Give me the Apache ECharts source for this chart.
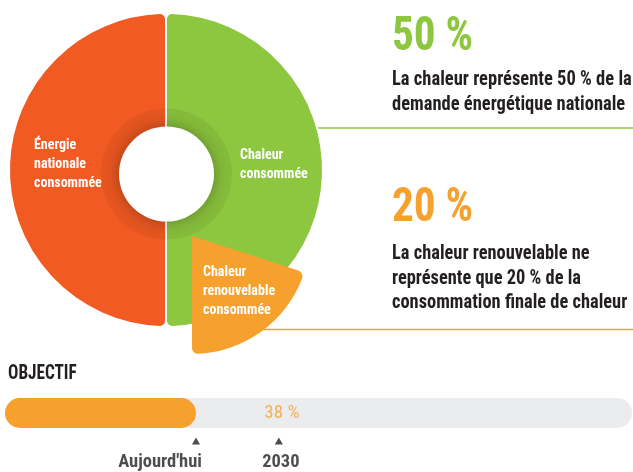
<!DOCTYPE html>
<html>
<head>
<meta charset="utf-8">
<script src="https://cdn.jsdelivr.net/npm/echarts@6/dist/echarts.min.js"></script>
<style>html,body{margin:0;padding:0;background:#fff}#main{width:633px;height:472px}</style>
</head>
<body>
<div id="main"></div>
<script>
// data
var pieNames = ['Chaleur consommée', 'Énergie nationale consommée'];
var pieValues = [50, 50];
var pieLabels = ['Chaleur\nconsommée', 'Énergie\nnationale\nconsommée'];
var renewName = 'Chaleur renouvelable consommée';
var renewLabel = 'Chaleur\nrenouvelable\nconsommée';
var renewShare = 20;
var statValues = ['50 %', '20 %'];
var statTexts = [
    'La chaleur représente 50 % de la\ndemande énergétique nationale',
    'La chaleur renouvelable ne\nreprésente que 20 % de la\nconsommation finale de chaleur'
];
var goalTitle = 'OBJECTIF';
var milestoneNames = ["Aujourd'hui", '2030'];
var milestoneValues = [26.5, 38];
var scaleMax = 87;

var FONT = "'Roboto Condensed', 'DejaVu Sans Condensed', sans-serif";
var RED = '#f15a22', GREEN = '#8dc63f', ORANGE = '#f6a12d', DARK = '#231f20', GREY = '#ebecee';
var pieColors = [GREEN, RED];

var dom = document.getElementById('main');
var chart = echarts.init(dom);
var option = {
    animation: false,
    grid: { left: 5, right: 1, top: 398, height: 30 },
    xAxis: { type: 'value', min: 0, max: scaleMax, show: false },
    yAxis: { type: 'category', data: ['objectif'], show: false },
    graphic: [
        { type: 'line', shape: { x1: 318, y1: 128, x2: 633, y2: 128 }, style: { stroke: GREEN, lineWidth: 1.5 } },
        { type: 'line', shape: { x1: 250, y1: 329.5, x2: 633, y2: 329.5 }, style: { stroke: ORANGE, lineWidth: 1.5 } },
        { type: 'text', x: 392, y: 38, scaleX: 0.9, style: { text: statValues[0], fill: GREEN, font: 'bold 48px ' + FONT, verticalAlign: 'middle' } },
        { type: 'text', x: 392, y: 92.5, scaleX: 0.925, style: { text: statTexts[0], fill: DARK, font: 'bold 20px ' + FONT, lineHeight: 25, verticalAlign: 'middle' } },
        { type: 'text', x: 392, y: 209, scaleX: 0.9, style: { text: statValues[1], fill: ORANGE, font: 'bold 48px ' + FONT, verticalAlign: 'middle' } },
        { type: 'text', x: 392, y: 278.5, scaleX: 0.92, style: { text: statTexts[1], fill: DARK, font: 'bold 20px ' + FONT, lineHeight: 24.5, verticalAlign: 'middle' } },
        { type: 'text', x: 8, y: 374, scaleX: 0.86, style: { text: goalTitle, fill: DARK, font: 'bold 20px ' + FONT, verticalAlign: 'middle' } }
    ],
    series: [
        {
            type: 'pie',
            center: [166, 170],
            radius: [0, 157],
            startAngle: 90,
            silent: true,
            avoidLabelOverlap: false,
            itemStyle: { borderColor: '#fff', borderWidth: 2, borderRadius: [0, 6] },
            label: { show: true, position: 'inside', color: '#fff', fontFamily: FONT, fontWeight: 'bold', fontSize: 14, lineHeight: 19 },
            labelLayout: function (p) {
                return p.dataIndex === 0
                    ? { x: 240, y: 165, align: 'left', verticalAlign: 'middle' }
                    : { x: 34, y: 164, align: 'left', verticalAlign: 'middle' };
            },
            data: pieValues.map(function (v, i) {
                return { value: v, name: pieNames[i], itemStyle: { color: pieColors[i] }, label: { formatter: pieLabels[i] } };
            })
        },
        {
            type: 'pie',
            center: [166.5, 174],
            radius: [47.5, 65.5],
            startAngle: 90,
            silent: true,
            label: { show: false },
            data: pieValues.map(function (v) {
                return { value: v, itemStyle: { color: 'rgba(0,0,0,0.05)' } };
            })
        },
        {
            type: 'pie',
            center: [166.5, 174],
            radius: [0, 47.5],
            silent: true,
            label: { show: false },
            data: [{ value: 1, itemStyle: { color: '#fff', shadowBlur: 14, shadowColor: 'rgba(0,0,0,0.3)' } }]
        },
        {
            type: 'pie',
            center: [192, 236],
            radius: [0, 118],
            startAngle: -18,
            silent: true,
            avoidLabelOverlap: false,
            itemStyle: { borderRadius: 6 },
            label: { show: false },
            labelLayout: function (p) {
                return p.dataIndex === 0 ? { x: 203, y: 291, align: 'left', verticalAlign: 'middle' } : {};
            },
            data: [
                { value: renewShare, name: renewName, itemStyle: { color: ORANGE },
                  label: { show: true, position: 'inside', formatter: renewLabel, color: '#fff', fontFamily: FONT, fontWeight: 'bold', fontSize: 14, lineHeight: 19 } },
                { value: 100 - renewShare, itemStyle: { color: 'rgba(0,0,0,0)' } }
            ]
        },
        {
            type: 'bar',
            data: [milestoneValues[0]],
            barWidth: 30,
            silent: true,
            itemStyle: { color: ORANGE, borderRadius: 15 },
            showBackground: true,
            backgroundStyle: { color: GREY, borderRadius: 15 }
        },
        {
            type: 'scatter',
            silent: true,
            symbol: 'triangle',
            symbolSize: [8, 7],
            symbolOffset: [0, 28],
            itemStyle: { color: DARK },
            label: { show: true, position: 'bottom', distance: 8, formatter: '{b}', color: DARK, fontFamily: FONT, fontWeight: 'bold', fontSize: 18.5 },
            data: milestoneValues.map(function (v, i) {
                return {
                    value: [v, 0], name: milestoneNames[i],
                    label: i === 0 ? { align: 'right', offset: [6, 0] } : { offset: [2, 0] }
                };
            })
        },
        {
            type: 'scatter',
            silent: true,
            symbolSize: 1,
            itemStyle: { color: 'rgba(0,0,0,0)' },
            label: {
                show: true, position: 'inside', offset: [3, 0], color: ORANGE, fontFamily: FONT, fontSize: 19,
                formatter: function (p) { return p.value[0] + ' %'; }
            },
            data: [[milestoneValues[1], 0]]
        }
    ]
};
chart.setOption(option);
</script>
</body>
</html>
